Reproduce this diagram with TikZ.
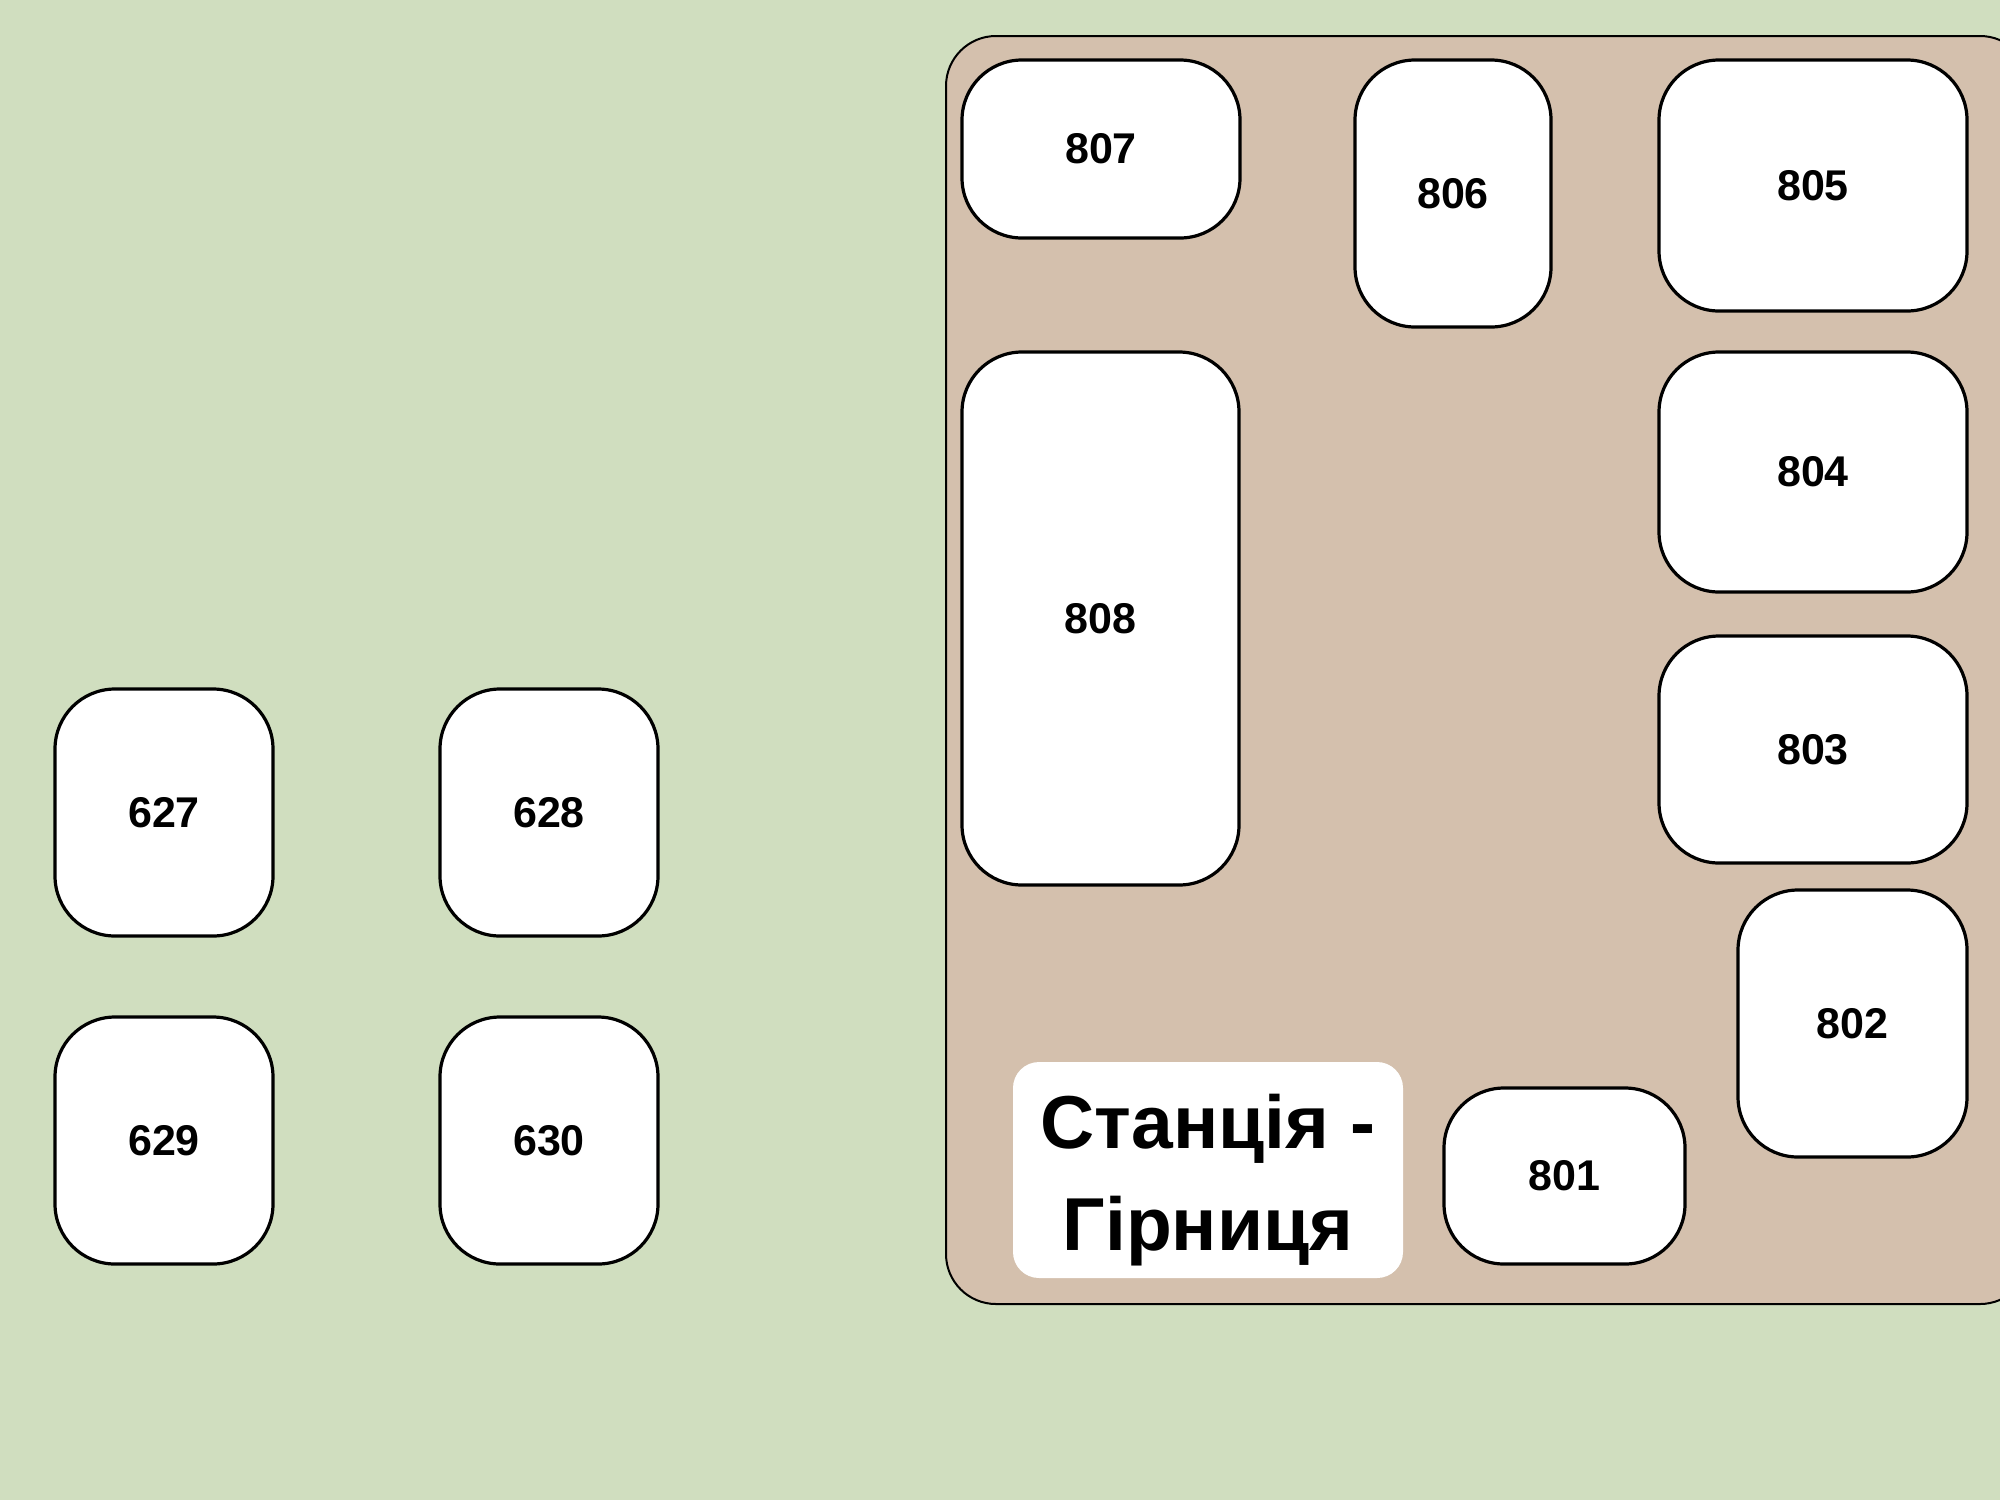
\documentclass[tikz,border=0pt]{standalone}
\usepackage{fontspec}
\setmainfont{Liberation Sans}
\definecolor{bggreen}{RGB}{208,222,191}
\definecolor{tan}{RGB}{212,192,173}
\begin{document}
\begin{tikzpicture}[x=0.5pt,y=-0.5pt,
  room/.style={draw=black, line width=1.6pt, fill=white, rounded corners=30pt,
    inner sep=0pt, font=\bfseries\fontsize{21.5pt}{25pt}\selectfont},
  station/.style={inner sep=0pt, align=center,
    font=\bfseries\fontsize{37.5pt}{51pt}\selectfont}]
\clip (0,0) rectangle (2000,1500);
\useasboundingbox (0,0) rectangle (2000,1500);
\fill[bggreen] (0,0) rectangle (2000,1500);
\draw[fill=tan, line width=1pt, rounded corners=25pt] (946,36) rectangle (2030,1304);
\node[room, minimum width=139pt, minimum height=89pt] (r807) at (1101,149) {807};
\node[room, minimum width=98pt, minimum height=133.5pt] (r806) at (1453,193.5) {806};
\node[room, minimum width=154pt, minimum height=125.5pt] (r805) at (1813,185.5) {805};
\node[room, minimum width=154pt, minimum height=120pt] (r804) at (1813,472) {804};
\node[room, minimum width=154pt, minimum height=113.5pt] (r803) at (1813,749.5) {803};
\node[room, minimum width=114.5pt, minimum height=133.5pt] (r802) at (1852.5,1023.5) {802};
\node[room, minimum width=120.5pt, minimum height=88pt] (r801) at (1564.5,1176) {801};
\node[room, minimum width=138.5pt, minimum height=266.5pt] (r808) at (1100.5,618.5) {808};
\node[room, minimum width=109pt, minimum height=123.5pt] (r627) at (164,812.5) {627};
\node[room, minimum width=109pt, minimum height=123.5pt] (r628) at (549,812.5) {628};
\node[room, minimum width=109pt, minimum height=123.5pt] (r629) at (164,1140.5) {629};
\node[room, minimum width=109pt, minimum height=123.5pt] (r630) at (549,1140.5) {630};
\fill[white, rounded corners=13pt] (1013,1062) rectangle (1403,1278);
\node[station] (st) at (1208,1180) {Станція -\\Гірниця};
\end{tikzpicture}
\end{document}
